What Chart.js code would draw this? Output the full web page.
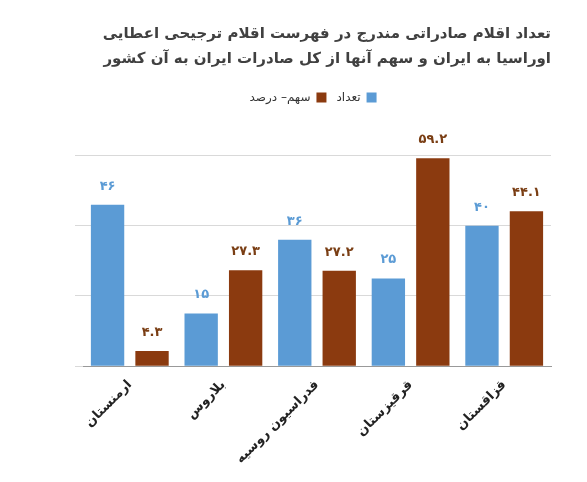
<!DOCTYPE html>
<html>
<head>
<meta charset="utf-8">
<script src="https://cdn.jsdelivr.net/npm/chart.js@4"></script>
<style>
body{margin:0;background:#fff;}
#wrap{width:587px;height:482px;}
</style>
</head>
<body>
<div id="wrap"><canvas id="chart"></canvas></div>
<script>
// data
const countries = ["ارمنستان", "بلاروس", "فدراسیون روسیه", "قرقیزستان", "قزاقستان"];
const countValues = [46, 15, 36, 25, 40];
const shareValues = [4.3, 27.3, 27.2, 59.2, 44.1];
const countLabels = ["۴۶", "۱۵", "۳۶", "۲۵", "۴۰"];
const shareLabels = ["۴.۳", "۲۷.۳", "۲۷.۲", "۵۹.۲", "۴۴.۱"];

const blue = "#5B9BD5";
const brown = "#8B3A0F";

// draw the value text above each bar
const valueLabels = {
    id: "valueLabels",
    afterDatasetsDraw(chart) {
        const ctx = chart.ctx;
        ctx.save();
        ctx.font = "bold 13px 'DejaVu Sans'";
        ctx.textAlign = "center";
        ctx.textBaseline = "bottom";
        chart.data.datasets.forEach((ds, i) => {
            const texts = i == 0 ? countLabels : shareLabels;
            ctx.fillStyle = i == 0 ? blue : "#7A3E14";
            chart.getDatasetMeta(i).data.forEach((bar, j) => {
                ctx.fillText(texts[j], bar.x, bar.y - 12);
            });
        });
        ctx.restore();
    }
};

// extra room under the legend
const legendGap = {
    id: "legendGap",
    beforeInit(chart) {
        const fit = chart.legend.fit;
        chart.legend.fit = function () {
            fit.bind(chart.legend)();
            this.height += 42;
        };
    }
};

new Chart(document.getElementById("chart"), {
    type: "bar",
    data: {
        labels: countries,
        datasets: [
            {label: "تعداد", data: countValues, backgroundColor: blue},
            {label: "سهم– درصد", data: shareValues, backgroundColor: brown}
        ]
    },
    options: {
        responsive: true,
        maintainAspectRatio: false,
        animation: false,
        layout: {padding: {left: 75, right: 36, top: 0, bottom: 12}},
        datasets: {bar: {barPercentage: 0.75, categoryPercentage: 0.95}},
        plugins: {
            title: {
                display: true,
                text: ["تعداد اقلام صادراتی مندرج در فهرست اقلام ترجیحی اعطایی", "اوراسیا به ایران و سهم آنها از کل صادرات ایران به آن کشور"],
                align: "end",
                color: "#404040",
                font: {family: "DejaVu Sans", size: 15, weight: "bold", lineHeight: 1.65},
                padding: {top: 22, bottom: 10}
            },
            legend: {
                rtl: true,
                labels: {
                    boxWidth: 10, boxHeight: 10, color: "#333",
                    font: {family: "DejaVu Sans", size: 12}
                }
            },
            tooltip: {enabled: false}
        },
        scales: {
            x: {
                grid: {display: false},
                border: {color: "#999"},
                ticks: {
                    minRotation: 45, maxRotation: 45,
                    color: "#222",
                    font: {family: "DejaVu Sans", size: 13, weight: "bold"}
                }
            },
            y: {
                min: 0, max: 60,
                ticks: {stepSize: 20, display: false},
                border: {display: false},
                grid: {color: "#d9d9d9"}
            }
        }
    },
    plugins: [valueLabels, legendGap]
});
</script>
</body>
</html>
